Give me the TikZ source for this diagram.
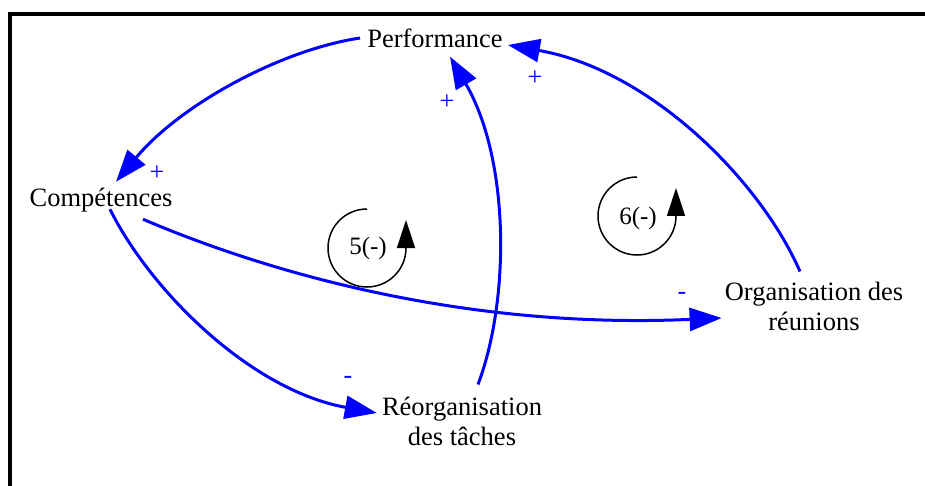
\documentclass[tikz,border=0pt]{standalone}
\usepackage{fontspec}
\setmainfont{Liberation Serif}
\usetikzlibrary{arrows.meta}

\begin{document}
\begin{tikzpicture}[
    x=1pt, y=-1pt,
    var/.style={align=center, inner sep=3pt,
      font=\fontsize{26.5}{30}\selectfont},
    link/.style={draw=blue, line width=3pt,
      -{Triangle[length=32pt, width=23pt]}},
    sign/.style={text=blue, inner sep=0pt,
      font=\fontsize{26}{28}\selectfont},
    loopsym/.style={draw=black, line width=1.5pt,
      -{Triangle[length=28pt, width=18pt]}},
    looplbl/.style={font=\fontsize{25}{27}\selectfont}
  ]
    \useasboundingbox (0,0) rectangle (925,486);
    % Cadre
    \draw[line width=4pt] (10,486) -- (10,14) -- (925,14);

    % Variables
    \node[var] (perf) at (435,38) {Performance};
    \node[var] (comp) at (101,200) {Compétences};
    \node[var] (reorg) at (462,421) {Réorganisation\\des tâches};
    \node[var] (org) at (814,306) {Organisation des\\réunions};

    % Liens
    \draw[link] ([xshift=-4pt]perf.west) .. controls (280,50) and (180,105)
      .. ([xshift=15pt,yshift=3pt]comp.north);
    \draw[link] ([xshift=9pt,yshift=6pt]comp.south)
      .. controls (150,290) and (250,390)
      .. ([xshift=-2pt,yshift=8pt]reorg.west);
    \draw[link] ([xshift=42pt,yshift=-4pt]comp.south)
      .. controls (250,265) and (450,330)
      .. ([yshift=-12pt]org.west);
    \draw[link] ([xshift=16pt,yshift=9pt]reorg.north)
      .. controls (510,300) and (510,160)
      .. ([xshift=15pt,yshift=-6pt]perf.south);
    \draw[link] ([xshift=-14pt,yshift=7pt]org.north)
      .. controls (760,180) and (650,70)
      .. ([xshift=2pt,yshift=-7pt]perf.east);

    % Signes
    \node[sign] (s1) at (157,173) {+};
    \node[sign] (s2) at (348,380) {-};
    \node[sign] (s3) at (682,296) {-};
    \node[sign] (s4) at (447,102) {+};
    \node[sign] (s5) at (535,78) {+};

    % Boucles
    \node[looplbl] (b5) at (368,248) {5(-)};
    \draw[loopsym] (367,209) arc[start angle=90, end angle=360,
      radius=39pt] -- ++(0,-28);
    \node[looplbl] (b6) at (638,218) {6(-)};
    \draw[loopsym] (637,177) arc[start angle=90, end angle=360,
      radius=39pt] -- ++(0,-28);
  \end{tikzpicture}
\end{document}
